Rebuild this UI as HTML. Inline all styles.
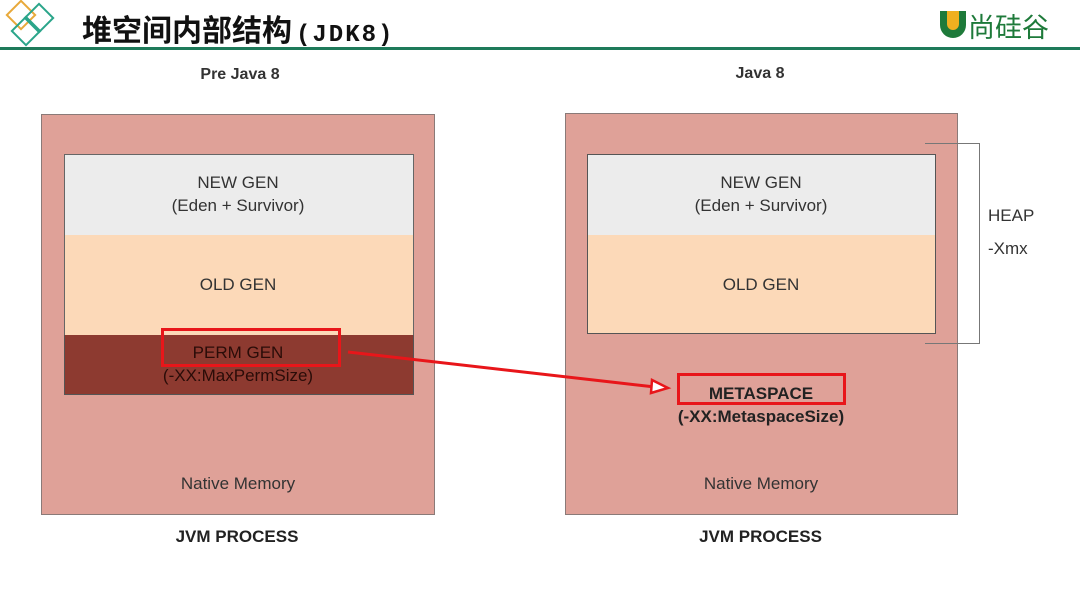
<!DOCTYPE html>
<html><head><meta charset="utf-8"><style>
body{margin:0;width:1080px;height:607px;background:#fff;position:relative;overflow:hidden;font-family:"Liberation Sans","Noto Sans CJK SC",sans-serif}
.a{position:absolute}
.t{position:absolute;text-align:center;font-size:17px;color:#333;line-height:23px}
</style></head><body>
<div class="a" style="left:0;top:0;width:1080px;height:47px;background:#fff;border-bottom:3px solid #1e7a5a"></div>
<svg class="a" style="left:0;top:0" width="60" height="50">
<rect x="11" y="5" width="20" height="20" transform="rotate(45 21 15)" fill="none" stroke="#e8a93a" stroke-width="2"/>
<rect x="29" y="8" width="20" height="20" transform="rotate(45 39 18)" fill="none" stroke="#2aa58a" stroke-width="2"/>
<rect x="16" y="21" width="20" height="20" transform="rotate(45 26 31)" fill="none" stroke="#2aa58a" stroke-width="2"/>
</svg>
<div class="a" style="left:82px;top:6px;font-size:30px;font-weight:bold;color:#111;white-space:nowrap">堆空间内部结构<span style="font-family:'Liberation Mono',monospace;font-size:24px;letter-spacing:2px;margin-left:4px">(JDK8)</span></div>
<div class="a" style="left:940px;top:11px;width:26px;height:27px;border-radius:0 0 13px 13px;background:#1e7a3a"></div>
<div class="a" style="left:947px;top:11px;width:12px;height:19px;border-radius:0 0 6px 6px;background:#f0b020"></div>
<div class="a" style="left:968px;top:6px;font-size:27px;color:#1e7a3a;font-family:'Noto Sans CJK SC',sans-serif">尚硅谷</div>

<div class="t" style="left:140px;top:63px;width:200px;font-weight:bold;font-size:16px">Pre Java 8</div>
<div class="t" style="left:660px;top:62px;width:200px;font-weight:bold;font-size:16px">Java 8</div>

<div class="a" style="left:41px;top:114px;width:392px;height:399px;background:#dfa198;border:1px solid #8a7a78"></div>
<div class="a" style="left:64px;top:154px;width:348px;height:81px;background:#ececec;border:1px solid #666;border-bottom:none"></div>
<div class="a" style="left:64px;top:235px;width:348px;height:100px;background:#fcd9b8;border-left:1px solid #666;border-right:1px solid #666"></div>
<div class="a" style="left:64px;top:335px;width:348px;height:59px;background:#8d3a30;border:1px solid #555;border-top:none"></div>
<div class="t" style="left:64px;top:171px;width:348px">NEW GEN<br>(Eden + Survivor)</div>
<div class="t" style="left:64px;top:273px;width:348px">OLD GEN</div>
<div class="t" style="left:64px;top:341px;width:348px;color:#2a0c08">PERM GEN<br>(-XX:MaxPermSize)</div>
<div class="a" style="left:161px;top:328px;width:174px;height:33px;border:3px solid #e8161a"></div>
<div class="t" style="left:64px;top:472px;width:348px">Native Memory</div>
<div class="t" style="left:41px;top:525px;width:392px;font-weight:bold;color:#222">JVM PROCESS</div>

<div class="a" style="left:565px;top:113px;width:391px;height:400px;background:#dfa198;border:1px solid #8a7a78"></div>
<div class="a" style="left:587px;top:154px;width:347px;height:81px;background:#ececec;border:1px solid #555;border-bottom:none"></div>
<div class="a" style="left:587px;top:235px;width:347px;height:98px;background:#fcd9b8;border:1px solid #555;border-top:none"></div>
<div class="t" style="left:587px;top:171px;width:348px">NEW GEN<br>(Eden + Survivor)</div>
<div class="t" style="left:587px;top:273px;width:348px">OLD GEN</div>
<div class="a" style="left:677px;top:373px;width:163px;height:26px;border:3px solid #e8161a"></div>
<div class="t" style="left:587px;top:382px;width:348px;font-weight:bold;color:#222">METASPACE<br>(-XX:MetaspaceSize)</div>
<div class="t" style="left:587px;top:472px;width:348px">Native Memory</div>
<div class="t" style="left:565px;top:525px;width:391px;font-weight:bold;color:#222">JVM PROCESS</div>

<div class="a" style="left:925px;top:143px;width:54px;height:199px;border:1px solid #777;border-left:none"></div>
<div class="t" style="left:988px;top:204px;text-align:left">HEAP</div>
<div class="t" style="left:988px;top:237px;text-align:left">-Xmx</div>

<svg class="a" style="left:0;top:0" width="1080" height="607">
<line x1="348" y1="352" x2="655" y2="387" stroke="#e8161a" stroke-width="3"/>
<polygon points="668,388 652,380 651,393" fill="#fff" stroke="#e8161a" stroke-width="2.5"/>
</svg>
</body></html>
